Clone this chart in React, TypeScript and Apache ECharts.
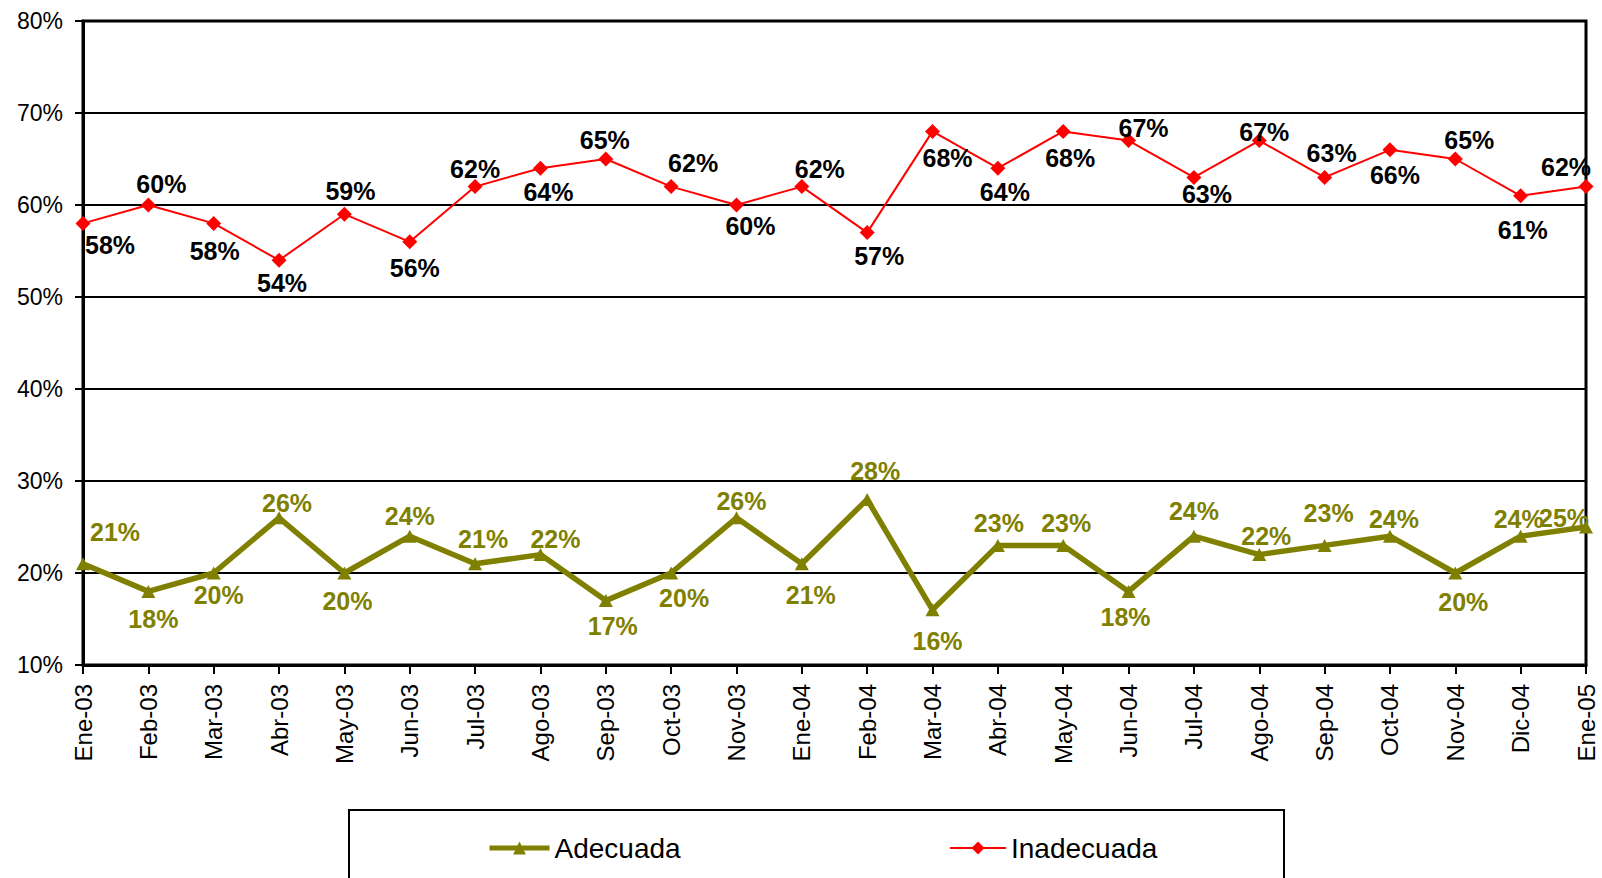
import React, { useEffect, useRef } from "react";
import * as echarts from "echarts";

const categories = [
  "Ene-03", "Feb-03", "Mar-03", "Abr-03", "May-03", "Jun-03", "Jul-03", "Ago-03",
  "Sep-03", "Oct-03", "Nov-03", "Ene-04", "Feb-04", "Mar-04", "Abr-04", "May-04",
  "Jun-04", "Jul-04", "Ago-04", "Sep-04", "Oct-04", "Nov-04", "Dic-04", "Ene-05",
];

const adecuada = [21, 18, 20, 26, 20, 24, 21, 22, 17, 20, 26, 21, 28, 16, 23, 23, 18, 24, 22, 23, 24, 20, 24, 25];
const inadecuada = [58, 60, 58, 54, 59, 56, 62, 64, 65, 62, 60, 62, 57, 68, 64, 68, 67, 63, 67, 63, 66, 65, 61, 62];

const yTicks = { min: 10, max: 80, step: 10 };

// label placement (style only)
const adecuadaLabelOffset: [number, number][] = [
  [32, -32], [5, 28], [5, 22], [8, -15], [3, 28], [0, -20], [8, -25], [15, -16],
  [7, 25], [13, 25], [5, -17], [9, 31], [8, -28], [5, 31], [1, -22], [3, -22],
  [-3, 26], [0, -25], [7, -19], [4, -32], [4, -17], [8, 29], [-2, -17], [-22, -9],
];
const inadecuadaLabelOffset: [number, number][] = [
  [27, 22], [13, -21], [1, 28], [3, 23], [6, -23], [5, 26], [0, -18], [8, 24],
  [-1, -19], [22, -24], [14, 21], [18, -18], [12, 23], [15, 27], [7, 24], [7, 27],
  [15, -13], [13, 17], [5, -9], [7, -24], [5, 25], [14, -19], [2, 34], [-20, -20],
];

const FONT = "'Liberation Sans', Arial, sans-serif";
const OLIVE = "#808000";
const RED = "#FF0000";

export default function App() {
  const ref = useRef<HTMLDivElement>(null);

  useEffect(() => {
    if (!ref.current) return;
    const chart = echarts.init(ref.current, null, { renderer: "svg" });

    const labelCommon = {
      show: true,
      position: "inside" as const,
      fontFamily: FONT,
      fontSize: 25,
      fontWeight: "bold" as const,
      formatter: "{c}%",
    };

    chart.setOption({
      animation: false,
      backgroundColor: "#ffffff",
      grid: {
        left: 83,
        top: 21,
        right: 16,
        bottom: 213,
        show: true,
        borderColor: "#000",
        borderWidth: 3,
        containLabel: false,
      },
      xAxis: {
        type: "category",
        data: categories,
        boundaryGap: false,
        axisLine: { lineStyle: { color: "#000", width: 3 } },
        axisTick: { show: true, length: 9, lineStyle: { color: "#000", width: 2 }, interval: 0 },
        axisLabel: {
          interval: 0,
          rotate: 90,
          margin: 19,
          color: "#000",
          fontFamily: FONT,
          fontSize: 24,
        },
        splitLine: { show: false },
      },
      yAxis: {
        type: "value",
        min: yTicks.min,
        max: yTicks.max,
        interval: yTicks.step,
        axisLine: { show: true, lineStyle: { color: "#000", width: 3 } },
        axisTick: { show: true, length: 8, lineStyle: { color: "#000", width: 2 } },
        axisLabel: {
          formatter: "{value}%",
          color: "#000",
          fontFamily: FONT,
          fontSize: 23,
          margin: 20,
        },
        splitLine: { show: true, lineStyle: { color: "#000", width: 2 } },
      },
      legend: [
        {
          data: ["Adecuada"],
          left: 482,
          top: 829,
          itemWidth: 60,
          itemHeight: 16,
          lineStyle: { width: 5 },
          textStyle: { fontFamily: FONT, fontSize: 28, color: "#000" },
        },
        {
          data: ["Inadecuada"],
          left: 944,
          top: 829,
          itemWidth: 56,
          itemHeight: 16,
          lineStyle: { width: 2 },
          textStyle: { fontFamily: FONT, fontSize: 28, color: "#000" },
        },
      ],
      graphic: [
        {
          type: "rect",
          shape: { x: 349, y: 810, width: 935, height: 90 },
          style: { fill: "none", stroke: "#000", lineWidth: 2 },
          silent: true,
        },
      ],
      series: [
        {
          name: "Inadecuada",
          type: "line",
          data: inadecuada.map((v, i) => ({
            value: v,
            label: { offset: inadecuadaLabelOffset[i] },
          })),
          symbol: "diamond",
          symbolSize: [15, 15],
          itemStyle: { color: RED },
          lineStyle: { color: RED, width: 2 },
          label: { ...labelCommon, color: "#000" },
          z: 3,
        },
        {
          name: "Adecuada",
          type: "line",
          data: adecuada.map((v, i) => ({
            value: v,
            label: { offset: adecuadaLabelOffset[i] },
          })),
          symbol: "triangle",
          symbolSize: [14, 13],
          itemStyle: { color: OLIVE },
          lineStyle: { color: OLIVE, width: 5.5 },
          label: { ...labelCommon, color: OLIVE },
          z: 4,
        },
      ],
    });

    return () => chart.dispose();
  }, []);

  return (
    <div
      ref={ref}
      style={{ position: "fixed", left: 0, top: 0, width: 1602, height: 878 }}
    />
  );
}
